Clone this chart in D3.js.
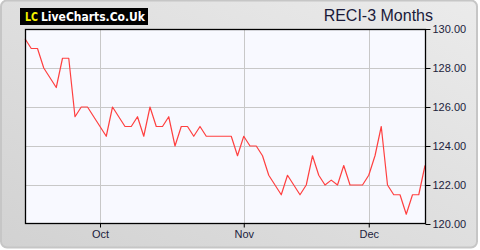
<!DOCTYPE html>
<html>
<head>
<meta charset="utf-8">
<script src="https://cdn.jsdelivr.net/npm/d3@7"></script>
<style>
    body { margin: 0; background: #ffffff; }
    svg { display: block; font-family: "Liberation Sans", Arial, sans-serif; }
    .grid line { stroke: #c8c8c8; stroke-width: 1; }
    .axis text { fill: #1c1c3c; font-size: 11px; }
    .axis line, .axis path { stroke: #000; }
</style>
</head>
<body>
<div id="chart"></div>
<script>
const Title = "RECI-3 Months";

// trading days, Sep 15 - Dec 12
const Dates = [
    "2025-09-15", "2025-09-16", "2025-09-17", "2025-09-18", "2025-09-19",
    "2025-09-22", "2025-09-23", "2025-09-24", "2025-09-25", "2025-09-26",
    "2025-09-29", "2025-09-30",
    "2025-10-01", "2025-10-02", "2025-10-03",
    "2025-10-06", "2025-10-07", "2025-10-08", "2025-10-09", "2025-10-10",
    "2025-10-13", "2025-10-14", "2025-10-15", "2025-10-16", "2025-10-17",
    "2025-10-20", "2025-10-21", "2025-10-22", "2025-10-23", "2025-10-24",
    "2025-10-27", "2025-10-28", "2025-10-29", "2025-10-30", "2025-10-31",
    "2025-11-03", "2025-11-04", "2025-11-05", "2025-11-06", "2025-11-07",
    "2025-11-10", "2025-11-11", "2025-11-12", "2025-11-13", "2025-11-14",
    "2025-11-17", "2025-11-18", "2025-11-19", "2025-11-20", "2025-11-21",
    "2025-11-24", "2025-11-25", "2025-11-26", "2025-11-27", "2025-11-28",
    "2025-12-01", "2025-12-02", "2025-12-03", "2025-12-04", "2025-12-05",
    "2025-12-08", "2025-12-09", "2025-12-10", "2025-12-11", "2025-12-12",
];

const Prices = [
    129.5, 129, 129, 128, 127.5,
    127, 128.5, 128.5, 125.5, 126,
    126, 125.5,
    125, 124.5, 126,
    125.5, 125, 125, 125.5, 124.5,
    126, 125, 125, 125.5, 124,
    125, 125, 124.5, 125, 124.5,
    124.5, 124.5, 124.5, 124.5, 123.5,
    124.5, 124, 124, 123.5, 122.5,
    122, 121.5, 122.5, 122, 121.5,
    122, 123.5, 122.5, 122, 122.25,
    122, 123, 122, 122, 122,
    122.5, 123.5, 125, 122, 121.5,
    121.5, 120.5, 121.5, 121.5, 123,
];

const MonthTicks  = ["2025-10-01", "2025-11-03", "2025-12-01"];
const MonthLabels = ["Oct", "Nov", "Dec"];
const PriceTicks  = [120, 122, 124, 126, 128, 130];

function createChart() {
    const width = 480;
    const height = 250;
    const left = 25, right = 426, top = 29, bottom = 224;

    const svg = d3.select("#chart").append("svg")
        .attr("width", width)
        .attr("height", height);

    const defs = svg.append("defs");
    const grad = defs.append("linearGradient")
        .attr("id", "panel-bg")
        .attr("x1", "0%").attr("y1", "100%")
        .attr("x2", "100%").attr("y2", "0%");
    grad.append("stop").attr("offset", "0%").attr("stop-color", "#d2d2d2");
    grad.append("stop").attr("offset", "100%").attr("stop-color", "#ebebeb");

    // outer panel
    svg.append("rect")
        .attr("x", 1).attr("y", 0.5)
        .attr("width", 476).attr("height", 247)
        .attr("rx", 6)
        .attr("fill", "url(#panel-bg)")
        .attr("stroke", "#c6c6c6")
        .attr("stroke-width", 2);

    // logo
    const logo = svg.append("g")
        .attr("font-family", "'DejaVu Sans', sans-serif")
        .attr("font-size", "12px")
        .attr("font-weight", "bold");
    logo.append("rect")
        .attr("x", 20).attr("y", 8)
        .attr("width", 128).attr("height", 17)
        .attr("fill", "#000");
    logo.append("text")
        .attr("x", 25).attr("y", 21)
        .attr("fill", "#f4f000")
        .attr("textLength", 13)
        .attr("lengthAdjust", "spacingAndGlyphs")
        .text("LC");
    logo.append("text")
        .attr("x", 41).attr("y", 21)
        .attr("fill", "#ffffff")
        .attr("textLength", 104)
        .attr("lengthAdjust", "spacingAndGlyphs")
        .text("LiveCharts.Co.Uk");

    // title
    svg.append("text")
        .attr("x", 433).attr("y", 21)
        .attr("text-anchor", "end")
        .attr("font-size", "16px")
        .attr("fill", "#1a1a3a")
        .text(Title);

    const x = d3.scalePoint()
        .domain(Dates)
        .range([left, right - 1]);

    const y = d3.scaleLinear()
        .domain([120, 130])
        .range([bottom, top]);

    // plot background
    svg.append("rect")
        .attr("x", left).attr("y", top)
        .attr("width", right - left).attr("height", bottom - top)
        .attr("fill", "#f8f9ff");

    // grid
    const grid = svg.append("g").attr("class", "grid");
    grid.selectAll(".hgrid")
        .data(PriceTicks.slice(1, -1))
        .enter().append("line")
            .attr("x1", left).attr("x2", right)
            .attr("y1", d => Math.round(y(d)) + 0.5)
            .attr("y2", d => Math.round(y(d)) + 0.5);
    grid.selectAll(".vgrid")
        .data(MonthTicks)
        .enter().append("line")
            .attr("x1", d => Math.round(x(d)) + 0.5)
            .attr("x2", d => Math.round(x(d)) + 0.5)
            .attr("y1", top).attr("y2", bottom);

    // price line
    const line = d3.line()
        .x((d, i) => x(Dates[i]))
        .y(d => y(d));

    svg.append("path")
        .datum(Prices)
        .attr("fill", "none")
        .attr("stroke", "#ff4040")
        .attr("stroke-width", 1.2)
        .attr("stroke-linejoin", "round")
        .attr("d", line);

    // frame
    svg.append("rect")
        .attr("x", left + 0.5).attr("y", top + 0.5)
        .attr("width", right - left - 1).attr("height", bottom - top - 1)
        .attr("fill", "none")
        .attr("stroke", "#000")
        .attr("stroke-width", 1.3);

    // axes
    const yAxis = d3.axisRight(y)
        .tickValues(PriceTicks)
        .tickFormat(d3.format(".2f"))
        .tickSize(5)
        .tickPadding(2);

    svg.append("g")
        .attr("class", "axis")
        .attr("transform", `translate(${right - 0.5},0)`)
        .call(yAxis)
        .call(g => g.select(".domain").remove());

    const xAxis = d3.axisBottom(x)
        .tickValues(MonthTicks)
        .tickFormat((d, i) => MonthLabels[i])
        .tickSize(4)
        .tickPadding(3);

    svg.append("g")
        .attr("class", "axis")
        .attr("transform", `translate(0,${bottom - 0.5})`)
        .call(xAxis)
        .call(g => g.select(".domain").remove());
}

createChart();
</script>
</body>
</html>
